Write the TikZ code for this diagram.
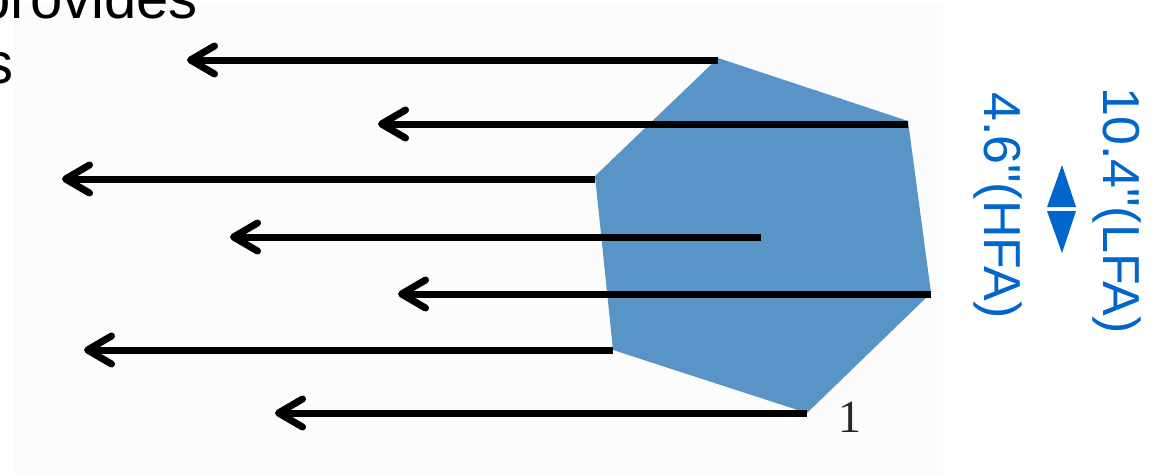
\documentclass[tikz,border=0pt]{standalone}
\usepackage{fontspec}
\setmainfont{Liberation Sans}
\newfontfamily\labelfont{Liberation Sans}[Ligatures=TeXOff]
\newfontfamily\serifnum{Liberation Serif}
\usetikzlibrary{arrows.meta}
\definecolor{paper}{RGB}{251,252,251}
\definecolor{hexblue}{RGB}{88,148,197}
\definecolor{labelblue}{RGB}{0,102,204}
\tikzset{
  ray/.style={line width=7pt, -{Straight Barb[length=24pt,width=28pt,round]}},
  bigtext/.style={inner sep=0pt, font=\fontsize{58}{58}\selectfont},
  sidetext/.style={inner sep=0pt, text=labelblue, font=\labelfont\fontsize{52}{52}\selectfont, rotate=-90, anchor=base west},
}
\begin{document}
\begin{tikzpicture}[x=1pt,y=-1pt]
\useasboundingbox (0,0) rectangle (1158,475);
\fill[white] (0,0) rectangle (1158,475);
\fill[paper] (14,5) rectangle (943,475);
% hexagon vertices
\coordinate (vt) at (718,58);
\coordinate (vur) at (908,121);
\coordinate (vr) at (931,293);
\coordinate (vb) at (807,413);
\coordinate (vll) at (613,350);
\coordinate (vl) at (595,176);
\coordinate (vc) at (761,237);
\fill[hexblue] (vt) -- (vur) -- (vr) -- (vb) -- (vll) -- (vl) -- cycle;
% arrow ends
\coordinate (e1) at (187,60);
\coordinate (e2) at (378,124);
\coordinate (e3) at (62,179);
\coordinate (e4) at (230,237);
\coordinate (e5) at (398,294);
\coordinate (e6) at (84,350);
\coordinate (e7) at (275,413);
\draw[ray] (718,60) -- (e1);
\draw[ray] (vur |- e2) -- (e2);
\draw[ray] (595,179) -- (e3);
\draw[ray] (vc) -- (e4);
\draw[ray] (vr |- e5) -- (e5);
\draw[ray] (vll) -- (e6);
\draw[ray] (807,413) -- (e7);
\node[inner sep=0pt, anchor=base, font=\serifnum\fontsize{46}{46}\selectfont, text=black!85] (one) at (850,432) {1};
% top-left text
\node[bigtext, anchor=base east] (prov) at (198,18) {provides};
\node[bigtext, anchor=base east] (s) at (14,83) {s};
% right labels
\node[sidetext] (lfa) at (1103,87) {10.4"(LFA)};
\node[sidetext] (hfa) at (984,92) {4.6"(HFA)};
\coordinate (tu) at (1062,165);
\coordinate (td) at (1062,253);
\fill[labelblue] (tu) -- (1076,207) -- (1047,207) -- cycle;
\fill[labelblue] (td) -- (1076,211) -- (1047,211) -- cycle;
\end{tikzpicture}
\end{document}
